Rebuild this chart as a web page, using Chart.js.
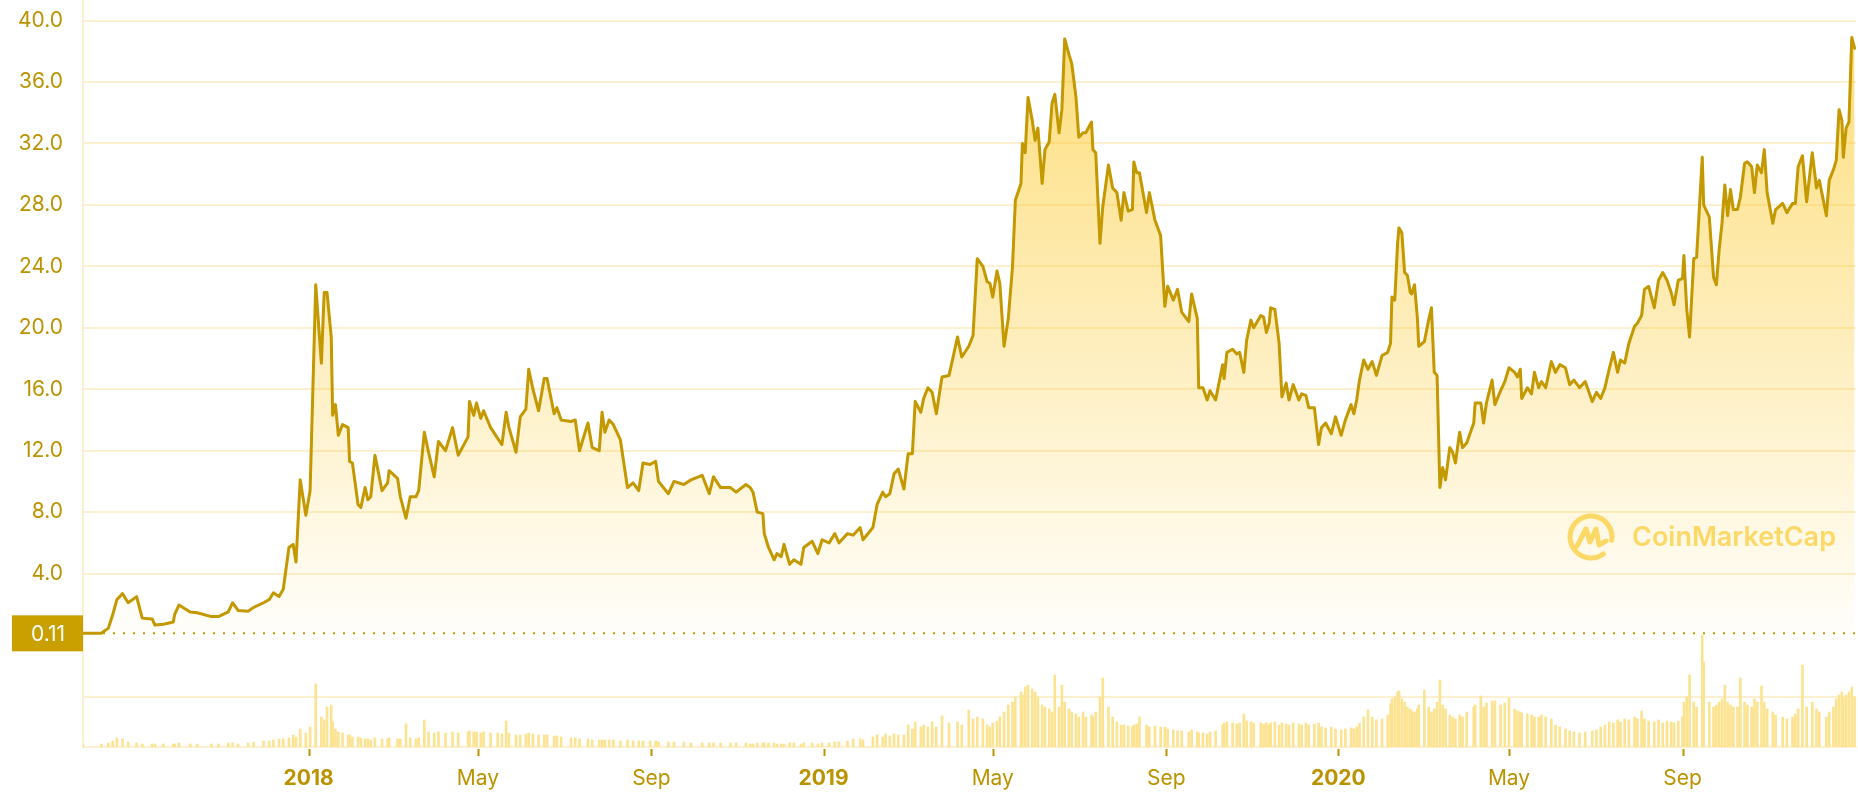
<!DOCTYPE html>
<html>
<head>
<meta charset="utf-8">
<title>BNB price chart</title>
<script src="https://cdn.jsdelivr.net/npm/chart.js@4.4.1/dist/chart.umd.min.js"></script>
<style>
  html, body { margin: 0; padding: 0; background: #fff; }
  #wrap { width: 1858px; height: 800px; }
</style>
</head>
<body>
<div id="wrap"><canvas id="priceChart" width="1858" height="800"></canvas></div>
<script>
// price history, one point every few days
const startDate = '2017-07-25';
const lastDay = 1257;

// days since startDate
const dayOffsets = [
  0, 13, 18, 21, 24, 28, 32, 38, 42, 49, 51, 57, 64, 65, 68, 76, 81, 91, 96, 103,
  106, 110, 117, 121, 128, 132, 135, 139, 142, 146, 149, 151, 154, 158, 161, 165, 169, 171, 173, 176,
  177, 179, 181, 184, 188, 189, 191, 195, 197, 200, 202, 204, 207, 212, 216, 217, 223, 225, 229, 232,
  236, 238, 242, 245, 249, 252, 257, 262, 266, 273, 274, 277, 279, 282, 284, 289, 294, 297, 300, 302,
  307, 310, 314, 316, 319, 323, 327, 329, 334, 336, 339, 346, 349, 352, 358, 361, 366, 368, 370, 373,
  376, 381, 386, 390, 394, 397, 402, 406, 408, 415, 419, 426, 431, 439, 444, 447, 452, 459, 463, 470,
  473, 475, 478, 482, 483, 486, 490, 492, 495, 497, 501, 504, 509, 511, 517, 521, 524, 529, 533, 536,
  542, 546, 551, 553, 560, 563, 567, 569, 572, 575, 578, 582, 585, 588, 590, 594, 596, 599, 602, 605,
  609, 614, 620, 623, 628, 631, 634, 638, 641, 643, 645, 648, 650, 653, 656, 659, 661, 665, 666, 668,
  670, 673, 675, 677, 680, 682, 685, 687, 689, 692, 694, 696, 699, 701, 704, 706, 709, 711, 715, 716,
  718, 721, 723, 727, 730, 733, 736, 738, 741, 744, 745, 747, 749, 754, 756, 760, 764, 767, 769, 773,
  776, 779, 784, 786, 790, 791, 794, 797, 799, 803, 808, 809, 811, 815, 818, 820, 823, 825, 828, 830,
  835, 837, 839, 841, 842, 845, 848, 850, 853, 855, 858, 862, 864, 867, 869, 873, 876, 878, 881, 885,
  888, 892, 895, 899, 901, 903, 905, 908, 911, 914, 917, 921, 925, 927, 928, 930, 932, 933, 935, 937,
  939, 941, 942, 944, 946, 947, 951, 954, 956, 958, 960, 962, 964, 966, 969, 971, 973, 976, 978, 981,
  986, 987, 991, 993, 995, 999, 1001, 1005, 1008, 1011, 1015, 1017, 1019, 1020, 1024, 1027, 1029, 1032, 1034, 1037,
  1041, 1044, 1047, 1051, 1054, 1057, 1061, 1065, 1070, 1073, 1076, 1079, 1082, 1085, 1088, 1090, 1093, 1096, 1100, 1102,
  1105, 1107, 1110, 1114, 1117, 1120, 1123, 1126, 1128, 1131, 1134, 1135, 1137, 1139, 1142, 1144, 1148, 1149, 1153, 1156,
  1158, 1160, 1162, 1164, 1166, 1168, 1170, 1173, 1175, 1178, 1180, 1183, 1185, 1187, 1190, 1192, 1194, 1198, 1200, 1205,
  1208, 1212, 1214, 1216, 1219, 1222, 1226, 1229, 1231, 1236, 1238, 1241, 1243, 1245, 1247, 1248, 1250, 1252, 1254, 1256
];

// USD
const prices = [
  0.11, 0.12, 0.45, 1.3, 2.3, 2.7, 2.1, 2.5, 1.1, 1.05, 0.65, 0.7, 0.85, 1.35, 1.95, 1.5, 1.45, 1.2, 1.2, 1.5,
  2.1, 1.6, 1.55, 1.8, 2.1, 2.3, 2.75, 2.5, 3.0, 5.7, 5.9, 4.75, 10.1, 7.8, 9.4, 22.8, 17.7, 22.3, 22.3, 19.4,
  14.3, 15.0, 13.0, 13.7, 13.5, 11.3, 11.2, 8.5, 8.3, 9.6, 8.8, 9.0, 11.7, 9.4, 9.9, 10.7, 10.2, 9.0, 7.6, 9.0,
  9.0, 9.4, 13.2, 11.9, 10.3, 12.6, 12.0, 13.5, 11.7, 12.9, 15.2, 14.3, 15.1, 14.1, 14.6, 13.5, 12.8, 12.4, 14.5, 13.5,
  11.9, 14.2, 14.7, 17.3, 16.0, 14.6, 16.7, 16.7, 14.4, 14.8, 14.0, 13.9, 14.0, 12.0, 13.8, 12.2, 12.0, 14.5, 13.2, 14.0,
  13.7, 12.7, 9.6, 9.9, 9.4, 11.2, 11.1, 11.3, 10.0, 9.2, 10.0, 9.8, 10.1, 10.4, 9.2, 10.3, 9.6, 9.6, 9.3, 9.8,
  9.6, 9.3, 8.0, 7.9, 6.6, 5.7, 4.9, 5.3, 5.1, 5.9, 4.6, 4.9, 4.6, 5.7, 6.1, 5.3, 6.2, 6.0, 6.6, 6.0,
  6.6, 6.5, 7.0, 6.2, 7.0, 8.5, 9.3, 9.0, 9.2, 10.5, 10.8, 9.5, 11.8, 11.8, 15.2, 14.5, 15.4, 16.1, 15.8, 14.4,
  16.8, 16.9, 19.4, 18.1, 18.8, 19.5, 24.5, 24.0, 23.0, 22.9, 22.0, 23.7, 22.9, 18.8, 20.6, 24.0, 28.3, 29.4, 32.0, 31.4,
  35.0, 33.5, 32.2, 33.0, 29.4, 31.6, 32.1, 34.6, 35.2, 32.7, 34.2, 38.8, 37.8, 37.2, 35.0, 32.4, 32.7, 32.7, 33.4, 31.6,
  31.4, 25.5, 27.9, 30.6, 29.1, 28.8, 27.0, 28.8, 27.6, 27.7, 30.8, 30.1, 30.1, 27.5, 28.8, 27.0, 26.0, 21.4, 22.7, 21.8,
  22.5, 21.0, 20.4, 22.2, 20.6, 16.1, 16.1, 15.3, 15.9, 15.3, 17.6, 16.7, 18.4, 18.6, 18.3, 18.4, 17.1, 19.2, 20.5, 20.0,
  20.8, 20.7, 19.7, 20.3, 21.3, 21.2, 19.0, 15.5, 16.4, 15.3, 16.3, 15.3, 15.7, 15.6, 14.8, 14.8, 12.4, 13.5, 13.8, 13.1,
  14.2, 13.0, 14.0, 15.0, 14.4, 15.3, 16.6, 17.9, 17.3, 17.8, 16.9, 18.2, 18.4, 19.0, 22.0, 21.8, 25.5, 26.5, 26.2, 23.6,
  23.4, 22.3, 22.2, 22.8, 20.7, 18.8, 19.1, 20.5, 21.3, 17.1, 16.9, 9.6, 10.9, 10.1, 12.2, 11.9, 11.2, 13.2, 12.2, 12.5,
  13.8, 15.1, 15.1, 13.8, 15.1, 16.6, 15.0, 15.9, 16.5, 17.4, 17.1, 16.8, 17.3, 15.4, 16.1, 15.7, 17.1, 16.1, 16.5, 16.1,
  17.8, 17.1, 17.6, 17.4, 16.3, 16.6, 16.1, 16.5, 15.2, 15.8, 15.4, 16.1, 17.3, 18.4, 17.1, 17.9, 17.7, 19.0, 20.1, 20.3,
  20.8, 22.5, 22.7, 21.3, 23.1, 23.6, 23.1, 22.3, 21.5, 23.1, 23.2, 24.7, 21.2, 19.4, 24.5, 24.6, 31.1, 28.0, 27.2, 23.3,
  22.8, 25.1, 26.8, 29.3, 27.3, 29.0, 27.7, 27.7, 28.5, 30.7, 30.8, 30.5, 28.8, 30.6, 30.1, 31.6, 28.8, 26.8, 27.7, 28.1,
  27.5, 28.1, 28.1, 30.5, 31.2, 28.2, 31.4, 29.1, 29.6, 27.3, 29.6, 30.3, 30.9, 34.2, 33.5, 31.1, 33.0, 33.4, 38.9, 38.2
];

// 24h volume, USD millions
const volumes = [
  30, 30, 40, 60, 90, 80, 50, 40, 30, 30, 30, 30, 30, 30, 40, 30, 30, 30, 30, 40,
  40, 30, 40, 50, 60, 60, 70, 80, 80, 90, 120, 100, 180, 140, 200, 630, 300, 270, 400, 420,
  250, 180, 150, 140, 120, 120, 100, 100, 90, 80, 80, 70, 90, 80, 80, 90, 80, 80, 230, 90,
  80, 90, 270, 150, 140, 150, 140, 150, 140, 150, 160, 150, 150, 140, 150, 140, 140, 130, 260, 140,
  120, 120, 130, 140, 130, 120, 120, 120, 110, 110, 100, 90, 90, 80, 80, 70, 70, 70, 70, 70,
  70, 60, 70, 60, 60, 60, 60, 60, 50, 50, 50, 50, 40, 40, 40, 40, 40, 40, 40, 40,
  30, 30, 40, 40, 40, 40, 40, 30, 30, 30, 40, 40, 30, 40, 40, 30, 40, 40, 50, 50,
  60, 80, 80, 70, 100, 120, 100, 130, 110, 130, 120, 120, 220, 180, 250, 200, 220, 200, 250, 200,
  310, 240, 250, 220, 370, 280, 300, 280, 220, 200, 240, 260, 300, 350, 420, 450, 500, 550, 520, 600,
  620, 580, 550, 500, 420, 400, 380, 350, 720, 400, 620, 450, 380, 350, 330, 300, 350, 300, 320, 300,
  350, 500, 690, 400, 300, 250, 220, 220, 210, 200, 220, 230, 300, 220, 200, 210, 200, 200, 180, 170,
  160, 160, 150, 170, 150, 140, 140, 130, 150, 160, 220, 240, 250, 240, 230, 240, 330, 260, 250, 240,
  240, 230, 240, 220, 240, 250, 220, 240, 230, 220, 240, 230, 220, 240, 220, 230, 240, 200, 190, 200,
  180, 170, 180, 190, 180, 200, 240, 300, 370, 300, 270, 280, 320, 430, 480, 500, 550, 560, 480, 450,
  400, 380, 360, 350, 380, 420, 570, 400, 350, 380, 450, 670, 420, 380, 320, 300, 280, 320, 300, 350,
  400, 420, 510, 400, 440, 460, 460, 420, 440, 490, 380, 360, 350, 340, 330, 320, 300, 300, 320, 300,
  280, 220, 200, 180, 160, 150, 140, 150, 160, 170, 200, 220, 250, 240, 270, 250, 280, 270, 300, 280,
  360, 280, 260, 250, 270, 240, 260, 250, 240, 260, 300, 450, 500, 720, 450, 400, 1120, 850, 450, 400,
  420, 450, 480, 620, 450, 420, 400, 400, 690, 450, 420, 400, 480, 450, 610, 450, 380, 350, 320, 300,
  280, 300, 330, 380, 820, 400, 450, 380, 350, 300, 350, 400, 480, 520, 550, 500, 520, 550, 600, 500
];

const tickDates = ['2018-01-01', '2018-05-01', '2018-09-01', '2019-01-01', '2019-05-01',
  '2019-09-01', '2020-01-01', '2020-05-01', '2020-09-01'];
const tickLabels = ['2018', 'May', 'Sep', '2019', 'May', 'Sep', '2020', 'May', 'Sep'];
const priceTicks = [4, 8, 12, 16, 20, 24, 28, 32, 36, 40];
const volumeGrid = 500;
const volumeMax = 7470;

const lineGold = '#c39800';
const labelGold = '#bb9300';
const cream = '#fcf0d0';

function dayOf(d) {
  return (Date.parse(d) - Date.parse(startDate)) / 86400000;
}
const tickDays = tickDates.map(dayOf);

const pricePoints = dayOffsets.map((d, i) => ({ x: d, y: prices[i] }));
const volumePoints = dayOffsets.map((d, i) => ({ x: d, y: volumes[i] }));

// x tick marks, dotted start-price line, its label box, and the watermark
const extras = {
  id: 'extras',
  afterDatasetsDraw(chart) {
    const { ctx, chartArea, scales } = chart;
    const y0 = scales.y.getPixelForValue(prices[0]);
    ctx.save();

    ctx.strokeStyle = labelGold;
    ctx.lineWidth = 2;
    tickDays.forEach(d => {
      const x = Math.round(scales.x.getPixelForValue(d)) + 0.5;
      ctx.beginPath();
      ctx.moveTo(x, chartArea.bottom + 2);
      ctx.lineTo(x, chartArea.bottom + 9);
      ctx.stroke();
    });

    ctx.strokeStyle = lineGold;
    ctx.lineWidth = 2;
    ctx.setLineDash([2, 8]);
    ctx.beginPath();
    ctx.moveTo(chartArea.left, y0);
    ctx.lineTo(chartArea.right, y0);
    ctx.stroke();
    ctx.setLineDash([]);

    ctx.fillStyle = '#c9a000';
    ctx.fillRect(12, y0 - 18, chartArea.left - 12, 36);
    ctx.fillStyle = '#ffffff';
    ctx.font = '21px Inter';
    ctx.textAlign = 'right';
    ctx.textBaseline = 'middle';
    ctx.fillText(prices[0].toFixed(2), 65, y0 + 1);

    // watermark
    const cx = chartArea.right - 265;
    const cy = 537;
    ctx.strokeStyle = 'rgba(251, 205, 60, 0.75)';
    ctx.lineWidth = 5;
    ctx.lineCap = 'round';
    ctx.lineJoin = 'round';
    ctx.beginPath();
    ctx.arc(cx, cy, 21, 0.3 * Math.PI, 2.05 * Math.PI);
    ctx.stroke();
    ctx.beginPath();
    ctx.moveTo(cx - 14, cy + 9);
    ctx.lineTo(cx - 5, cy - 8);
    ctx.lineTo(cx - 1, cy + 5);
    ctx.lineTo(cx + 5, cy - 8);
    ctx.lineTo(cx + 8, cy + 8);
    ctx.lineTo(cx + 15, cy + 4);
    ctx.stroke();
    ctx.fillStyle = 'rgba(251, 205, 60, 0.75)';
    ctx.font = '600 27px Inter';
    ctx.textAlign = 'left';
    ctx.fillText('CoinMarketCap', cx + 41, cy + 1);

    ctx.restore();
  }
};

new Chart(document.getElementById('priceChart'), {
  type: 'line',
  data: {
    datasets: [
      {
        label: 'Price',
        data: pricePoints,
        yAxisID: 'y',
        order: 1,
        borderColor: lineGold,
        borderWidth: 3,
        borderJoinStyle: 'round',
        borderCapStyle: 'round',
        pointRadius: 0,
        tension: 0,
        fill: { value: 0 },
        backgroundColor: (context) => {
          const { chart } = context;
          if (!chart.chartArea) return 'rgba(0,0,0,0)';
          const top = chart.scales.y.getPixelForValue(40);
          const bottom = chart.scales.y.getPixelForValue(0);
          const g = chart.ctx.createLinearGradient(0, top, 0, bottom);
          g.addColorStop(0, 'rgba(252, 200, 40, 0.62)');
          g.addColorStop(1, 'rgba(252, 200, 40, 0.02)');
          return g;
        }
      },
      {
        type: 'bar',
        label: 'Volume',
        data: volumePoints,
        yAxisID: 'yv',
        order: 2,
        backgroundColor: '#fce391',
        barThickness: 2
      }
    ]
  },
  options: {
    responsive: false,
    animation: false,
    layout: { padding: { top: 0, right: 2, bottom: 0, left: 0 } },
    plugins: {
      legend: { display: false },
      tooltip: { enabled: false }
    },
    scales: {
      x: {
        type: 'linear',
        min: 0,
        max: lastDay,
        offset: false,
        afterBuildTicks: (s) => { s.ticks = tickDays.map(v => ({ value: v })); },
        afterFit: (s) => { s.height = 53; s.paddingLeft = 0; s.paddingRight = 0; },
        grid: { display: false },
        border: { color: cream, width: 2 },
        ticks: {
          autoSkip: false,
          maxRotation: 0,
          padding: 11,
          color: labelGold,
          callback: (v, i) => tickLabels[i],
          font: (ctx) => ({
            family: 'Inter',
            size: 21,
            weight: (tickLabels[ctx.index] || '').length === 4 ? 'bold' : 'normal'
          })
        }
      },
      y: {
        position: 'left',
        min: -7.29,
        max: 41.34,
        afterBuildTicks: (s) => { s.ticks = priceTicks.map(v => ({ value: v })); },
        afterFit: (s) => { s.width = 83; s.paddingTop = 0; s.paddingBottom = 0; },
        grid: { color: cream, lineWidth: 2, drawTicks: false },
        border: { color: cream, width: 2 },
        ticks: {
          color: labelGold,
          padding: 20,
          font: { family: 'Inter', size: 21 },
          callback: (v) => v.toFixed(1)
        }
      },
      yv: {
        position: 'right',
        min: 0,
        max: volumeMax,
        afterBuildTicks: (s) => { s.ticks = [{ value: volumeGrid }]; },
        afterFit: (s) => { s.width = 0; s.paddingTop = 0; s.paddingBottom = 0; },
        grid: { color: cream, lineWidth: 2, drawTicks: false },
        border: { display: false },
        ticks: { display: false }
      }
    }
  },
  plugins: [extras]
});
</script>
</body>
</html>
